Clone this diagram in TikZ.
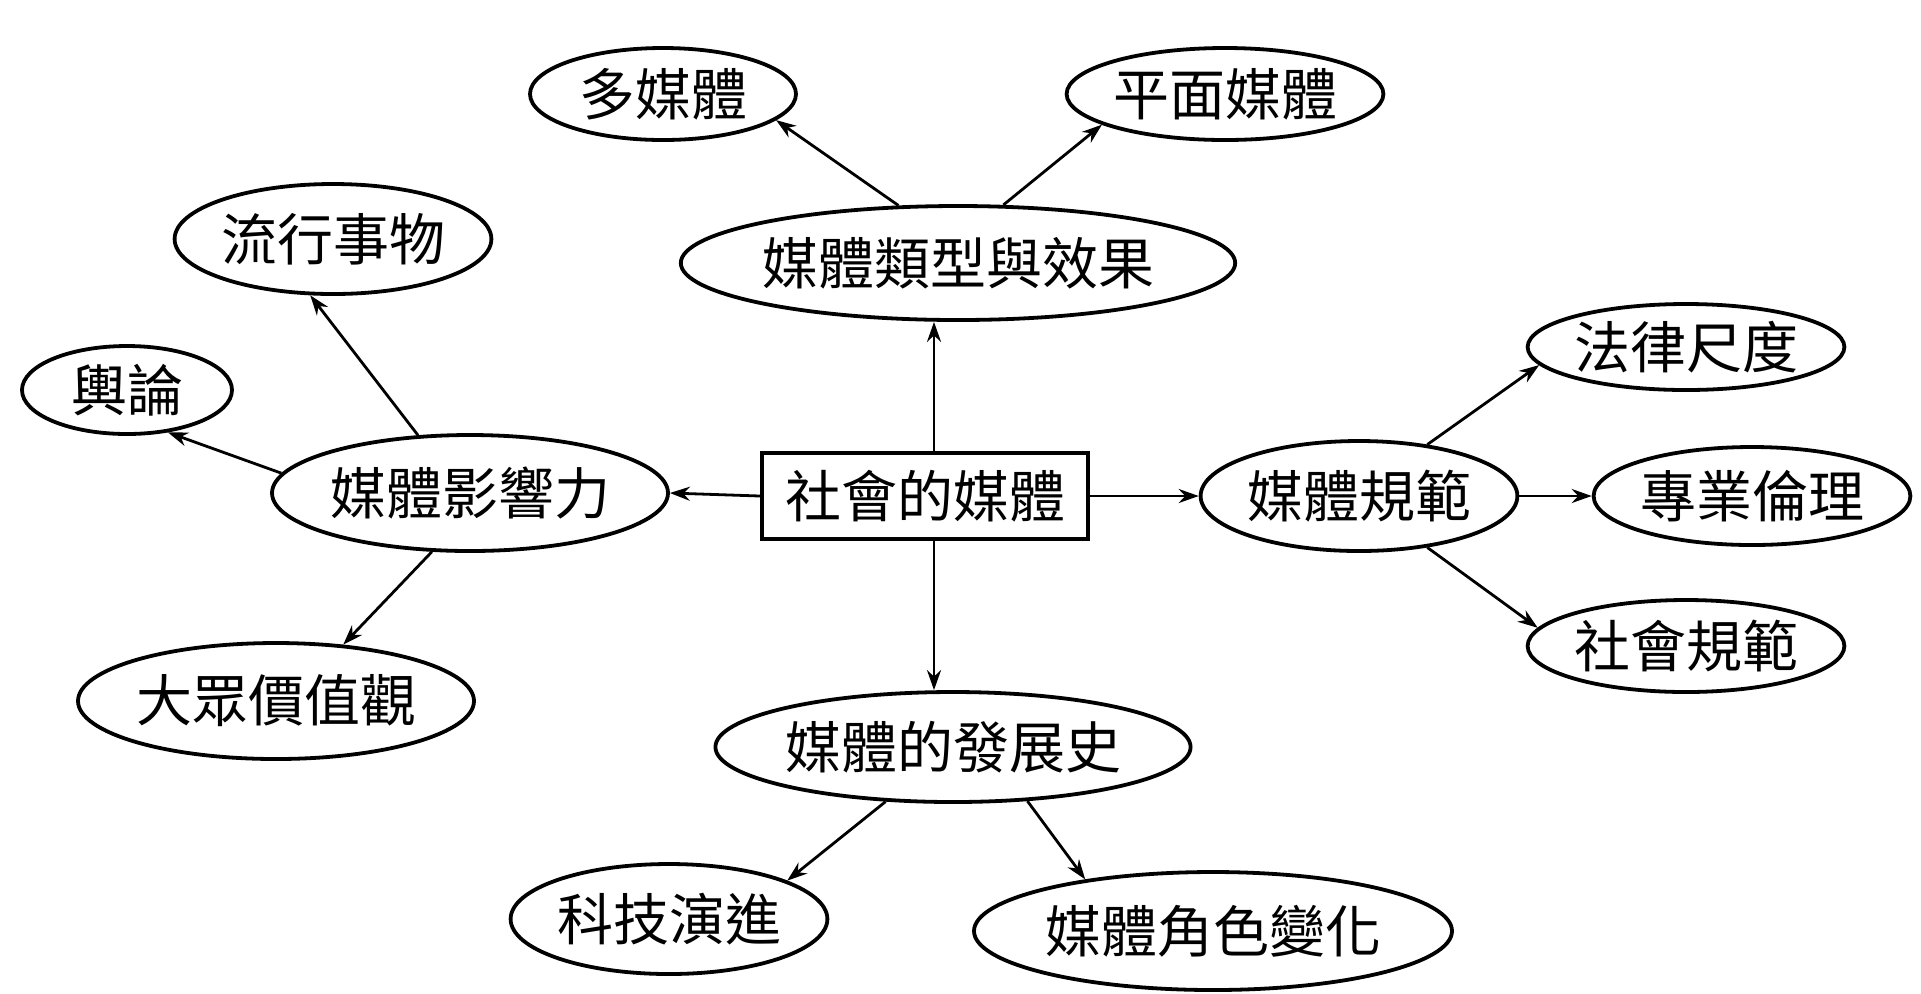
\documentclass[tikz,border=0pt]{standalone}
\usepackage{fontspec}
\setmainfont{Noto Sans CJK TC}
\usetikzlibrary{shapes.geometric,arrows.meta}
\begin{document}
\begin{tikzpicture}[x=0.5pt,y=-0.5pt,
  el/.style={ellipse,draw,line width=1.9pt,inner sep=0pt,font=\fontsize{28}{32}\selectfont},
  box/.style={rectangle,draw,line width=2.2pt,inner sep=0pt,font=\fontsize{28}{32}\selectfont},
  conn/.style={-{Stealth[length=10pt,width=7pt]},line width=1.4pt}]
\useasboundingbox (0,0) rectangle (1921,993);
% root
\node[box,minimum width=163pt,minimum height=43pt] (root) at (925,496) {社會的媒體};
% categories
\node[el,minimum width=236pt,minimum height=57pt] (lx) at (958,263) {媒體類型與效果};
\node[el,minimum width=179pt,minimum height=58pt] (yx) at (470,493) {媒體影響力};
\node[el,minimum width=152pt,minimum height=55pt] (gf) at (1359,496) {媒體規範};
\node[el,minimum width=204pt,minimum height=55pt] (fz) at (953,747) {媒體的發展史};
% children
\node[el,minimum width=133pt,minimum height=46pt] (mm) at (663,94) {多媒體};
\node[el,minimum width=153pt,minimum height=46pt] (pm) at (1225,94) {平面媒體};
\node[el,minimum width=144pt,minimum height=55pt] (lxsw) at (333,239) {流行事物};
\node[el,minimum width=105pt,minimum height=44pt] (yl) at (127,390) {輿論};
\node[el,minimum width=177pt,minimum height=58pt] (dz) at (276,701) {大眾價值觀};
\node[el,minimum width=140pt,minimum height=43pt] (fl) at (1686,347) {法律尺度};
\node[el,minimum width=153pt,minimum height=49pt] (zy) at (1752,496) {專業倫理};
\node[el,minimum width=140pt,minimum height=46pt] (sh) at (1686,646) {社會規範};
\node[el,minimum width=140pt,minimum height=55pt] (kj) at (669,919) {科技演進};
\node[el,minimum width=239pt,minimum height=59pt] (js) at (1213,931) {媒體角色變化};
% connectors from root
\draw[conn] ([xshift=4.5pt]root.north) -- ([xshift=4.5pt]root.north |- lx.south);
\draw[conn] ([xshift=4.5pt]root.south) -- ([xshift=4.5pt]root.south |- fz.north);
\draw[conn] (root.west) -- (yx.east);
\draw[conn] (root.east) -- (gf.west);
% connectors to children
\draw[conn] (lx.136) -- (mm.347);
\draw[conn] (lx.52) -- (pm.194);
\draw[conn] (yx.132) -- (lxsw.248);
\draw[conn] (yx.174) -- (yl.314);
\draw[conn] (yx.237) -- (dz.40);
\draw[conn] (gf.37) -- (fl.187);
\draw[conn] (gf.east) -- (zy.west);
\draw[conn] (gf.323) -- (sh.173);
\draw[conn] (fz.219) -- (kj.18);
\draw[conn] (fz.324) -- (js.158);
\end{tikzpicture}
\end{document}
